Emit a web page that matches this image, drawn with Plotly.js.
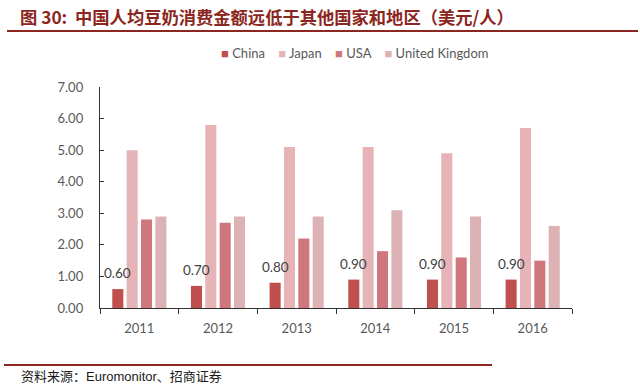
<!DOCTYPE html>
<html>
<head>
<meta charset="utf-8">
<script src="https://cdn.plot.ly/plotly-3.0.1.min.js"></script>
<style>
html,body{margin:0;padding:0;background:#fff;}
#chart{width:640px;height:388px;}
</style>
</head>
<body>
<div id="chart"></div>
<script>
// ---- data ----
const years = ['2011', '2012', '2013', '2014', '2015', '2016'];
const china = [0.60, 0.70, 0.80, 0.90, 0.90, 0.90];
const japan = [5.0, 5.8, 5.1, 5.1, 4.9, 5.7];
const usa = [2.8, 2.7, 2.2, 1.8, 1.6, 1.5];
const uk = [2.9, 2.9, 2.9, 3.1, 2.9, 2.6];
const seriesNames = ['China', 'Japan', 'USA', 'United Kingdom'];
const titleText = '图 30:  中国人均豆奶消费金额远低于其他国家和地区（美元/人）';
const sourceText = '资料来源：Euromonitor、招商证券';

// ---- styles ----
const colors = ['#C0504D', '#E6B4B7', '#D0767D', '#DDB2B5'];
const tickFont = {family: 'Lato, "Open Sans", sans-serif', size: 13, color: '#595959'};
const darkRed = '#8B2620';
const BARGAP = 0.27, GROUPGAP = 0.23;

const seriesValues = [china, japan, usa, uk];
const traces = seriesValues.map((vals, i) => ({
  type: 'bar',
  name: seriesNames[i],
  x: years,
  y: vals,
  marker: {color: colors[i]},
  hoverinfo: 'skip',
  showlegend: false
}));

// pixel -> paper helpers (plot area 100..572 x, 87..308 y)
const L = 100, R = 572, T = 87, B = 308;
const px = p => (p - L) / (R - L);
const py = p => (B - p) / (B - T);

// offset of the first (China) bar from the category centre, in px
const catW = (R - L) / years.length;
const slotW = catW * (1 - BARGAP) / seriesValues.length;
const chinaShift = -catW * (1 - BARGAP) / 2 + slotW / 2;

// data labels for China, placed through the axes (category index on x)
const labelAnns = years.map((yr, k) => ({
  x: k, y: china[k], xref: 'x', yref: 'y',
  text: china[k].toFixed(2),
  showarrow: false, xanchor: 'center', yanchor: 'bottom',
  xshift: chinaShift, yshift: 6,
  font: {family: 'Lato, "Open Sans", sans-serif', size: 13.5, color: '#404040'}
}));

// compact legend built from the series names and colours
const legendHtml = seriesNames.map((n, i) =>
  '<span style="color:' + colors[i] + '">■</span> ' + n
).join('&nbsp;&nbsp;&nbsp;&nbsp;');

const layout = {
  width: 640,
  height: 388,
  margin: {l: L, r: 640 - R, t: T, b: 388 - B},
  paper_bgcolor: '#ffffff',
  plot_bgcolor: '#ffffff',
  barmode: 'group',
  bargap: BARGAP,
  bargroupgap: GROUPGAP,
  showlegend: false,
  title: {
    text: titleText,
    x: 20 / 640, xanchor: 'left',
    y: 1 - 18 / 388, yanchor: 'middle',
    xref: 'container', yref: 'container',
    font: {family: '"Noto Sans CJK SC", sans-serif', size: 17.3, color: darkRed, weight: 'bold'}
  },
  xaxis: {
    type: 'category',
    range: [-0.5, years.length - 0.5],
    showline: true,
    linecolor: '#333333',
    linewidth: 1.2,
    ticks: 'outside',
    tickson: 'boundaries',
    ticklen: 5,
    tickcolor: '#333333',
    tickfont: tickFont,
    ticklabelstandoff: 8,
    showgrid: false,
    zeroline: false,
    fixedrange: true
  },
  yaxis: {
    range: [0, 7],
    dtick: 1,
    tickformat: '.2f',
    showline: true,
    linecolor: '#333333',
    linewidth: 1.2,
    ticks: 'inside',
    ticklen: 4,
    tickcolor: '#333333',
    tickfont: tickFont,
    ticklabelstandoff: 13,
    showgrid: false,
    zeroline: false,
    fixedrange: true
  },
  shapes: [
    {type: 'line', xref: 'paper', yref: 'paper', x0: px(7), x1: px(638), y0: py(31), y1: py(31),
     line: {color: darkRed, width: 2}},
    {type: 'line', xref: 'paper', yref: 'paper', x0: px(4), x1: px(492), y0: py(365), y1: py(365),
     line: {color: darkRed, width: 2}}
  ],
  annotations: labelAnns.concat([
    {text: legendHtml, xref: 'paper', yref: 'paper', x: px(219), y: py(53),
     xanchor: 'left', yanchor: 'middle', showarrow: false,
     font: {family: 'Lato, "Open Sans", sans-serif', size: 13, color: '#595959'}},
    {text: sourceText, xref: 'paper', yref: 'paper', x: px(19), y: py(376),
     xanchor: 'left', yanchor: 'middle', showarrow: false,
     font: {family: '"Liberation Sans", "Noto Sans CJK SC", sans-serif', size: 13, color: '#1a1a1a'}}
  ])
};

Plotly.newPlot('chart', traces, layout, {displayModeBar: false, staticPlot: true});
</script>
</body>
</html>
